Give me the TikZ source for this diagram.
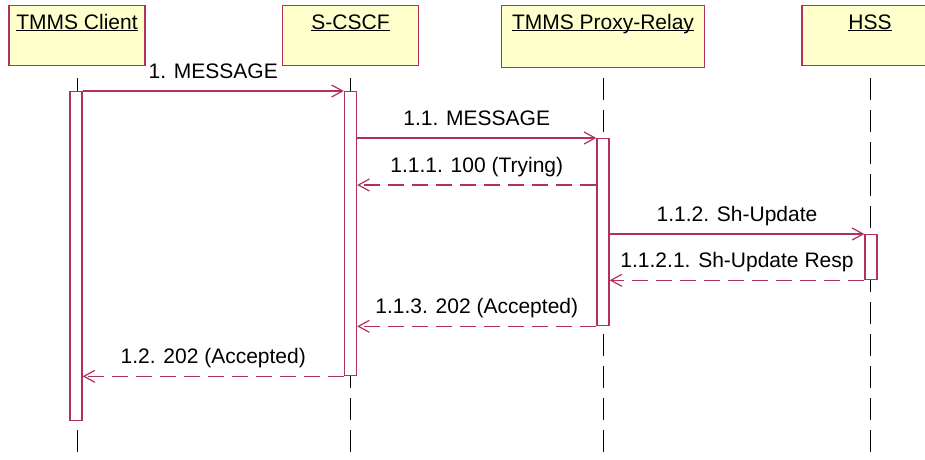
\documentclass[tikz,border=0pt]{standalone}
\usepackage{fontspec}
\setmainfont{Liberation Sans}
\usetikzlibrary{arrows.meta,positioning}
\definecolor{umlred}{HTML}{B0325A}
\definecolor{umlfill}{HTML}{FFFFCC}
\newcommand{\lifename}[1]{\underline{\raisebox{0pt}[\height][0pt]{#1}}}
\tikzset{
  lifebox/.style={draw=umlred,fill=umlfill,line width=1.3pt,minimum width=136pt,
    minimum height=60pt,anchor=north,inner sep=0pt},
  lifetitle/.style={anchor=base,yshift=-24pt,inner sep=0pt},
  lifeline/.style={draw=black,line width=0.9pt,dash pattern=on 22pt off 10pt},
  actbar/.style={draw=umlred,fill=white,line width=1.3pt,minimum width=12pt,
    anchor=north,inner sep=0pt},
  msgarrow/.style={draw=umlred,line width=1.2pt,-{Straight Barb[length=11pt,width=12pt]}},
  replyarrow/.style={msgarrow,dash pattern=on 16pt off 8pt},
  msglabel/.style={midway,anchor=base,yshift=13pt,inner sep=0pt}
}

\begin{document}
\begin{tikzpicture}[x=1pt,y=-1pt,font=\fontsize{21pt}{25pt}\selectfont]
  \clip (0,0) rectangle (925,459);
  \fill[white] (0,0) rectangle (925,459);
  % lifeline heads
  \node[lifebox,label={[lifetitle]north:\lifename{TMMS Client}}] (client) at (77,5) {};
  \node[lifebox,label={[lifetitle]north:\lifename{S-CSCF}}] (scscf) at (350.5,5) {};
  \node[lifebox,minimum width=203pt,minimum height=62pt,
        label={[lifetitle]north:\lifename{TMMS Proxy-Relay}}] (proxy) at (603,5) {};
  \node[lifebox,label={[lifetitle]north:\lifename{HSS}}] (hss) at (870,5) {};
  \coordinate (clientend) at (77,459);
  \coordinate (scscfend) at (350.5,459);
  \coordinate (proxyend) at (603,459);
  \coordinate (hssend) at (870,459);
  \draw[lifeline] ([yshift=-12pt]client.south) -- (clientend);
  \draw[lifeline] ([yshift=-12pt]scscf.south) -- (scscfend);
  \draw[lifeline] ([yshift=-10pt]proxy.south) -- (proxyend);
  \draw[lifeline] ([yshift=-12pt]hss.south) -- (hssend);
  % activations
  \node[actbar,minimum height=329pt] (actC) at (76,91) {};
  \node[actbar,minimum height=284pt] (actS) at (350.5,91) {};
  \node[actbar,minimum height=187pt] (actP) at (603,138) {};
  \node[actbar,minimum height=45pt] (actH) at (871,234) {};
  % messages
  \draw[msgarrow] (actC.north east) -- node[msglabel] {1. MESSAGE} (actS.north west);
  \draw[msgarrow] (actS.east |- actP.north) -- node[msglabel] {1.1. MESSAGE} (actP.north west);
  \draw[replyarrow] (actP.west |- 0,185) -- node[msglabel] {1.1.1. 100 (Trying)} (actS.east |- 0,185);
  \draw[msgarrow] (actP.east |- actH.north) -- node[msglabel] {1.1.2. Sh-Update} (actH.north west);
  \draw[replyarrow] (actH.south west) -- node[msglabel] {1.1.2.1. Sh-Update Resp} (actP.east |- actH.south);
  \draw[replyarrow] (actP.south west) -- node[msglabel] {1.1.3. 202 (Accepted)} (actS.east |- actP.south);
  \draw[replyarrow] (actS.south west) -- node[msglabel] {1.2. 202 (Accepted)} (actC.east |- actS.south);
\end{tikzpicture}
\end{document}
